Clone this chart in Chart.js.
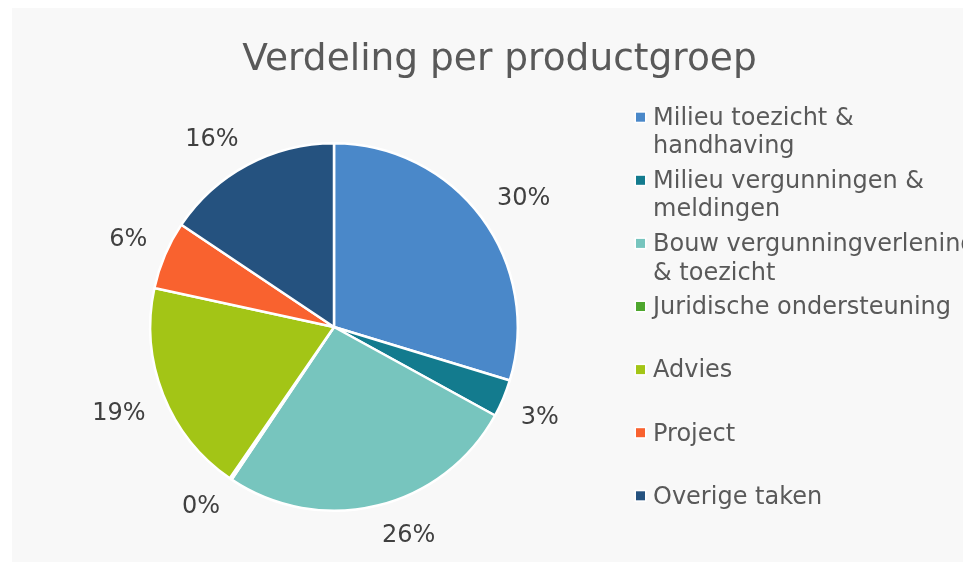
<!DOCTYPE html>
<html>
<head>
<meta charset="utf-8">
<script src="https://cdn.jsdelivr.net/npm/chart.js@4.4.1/dist/chart.umd.min.js"></script>
<style>
  html, body { margin: 0; padding: 0; background: #ffffff; overflow: hidden; }
  #wrap { position: absolute; left: 12px; top: 8px; width: 951px; height: 554px; background: #f8f8f8; }
  canvas { display: block; }
</style>
</head>
<body>
<div id="wrap"><canvas id="verdeling" width="951" height="554"></canvas></div>
<script>
"use strict";

const titel = "Verdeling per productgroep";

const categorieen = [
    "Milieu toezicht & handhaving",
    "Milieu vergunningen & meldingen",
    "Bouw vergunningverlening & toezicht",
    "Juridische ondersteuning",
    "Advies",
    "Project",
    "Overige taken",
];

// aandeel per productgroep (%)
const percentages = [29.7, 3.3, 26.4, 0.2, 18.8, 6.0, 15.6];

const kleuren = ["#4a88c9", "#137b8e", "#77c5be", "#4ea72e", "#a3c516", "#f9622f", "#25527f"];

const FONT = "'DejaVu Sans', Verdana, sans-serif";

document.addEventListener("DOMContentLoaded", () => {
    const canvas = document.querySelector("#verdeling");

    /**
     * Woorden over regels verdelen zoals de legenda in de bron
     */
    function afbreken(ctx, tekst, maxBreedte) {
        const woorden = tekst.split(" ");
        const regels = [];
        let regel = "";
        woorden.forEach((woord) => {
            const test = regel ? regel + " " + woord : woord;
            if (regel && ctx.measureText(test).width > maxBreedte) {
                regels.push(regel);
                regel = woord;
            } else {
                regel = test;
            }
        });
        if (regel) regels.push(regel);
        return regels;
    }

    const titelPlugin = {
        id: "titel",
        afterDraw(chart) {
            const { ctx } = chart;
            ctx.save();
            ctx.font = "37.5px " + FONT;
            ctx.fillStyle = "#595959";
            ctx.textAlign = "center";
            ctx.textBaseline = "alphabetic";
            ctx.fillText(titel, 487.5, 62);
            ctx.restore();
        },
    };

    /**
     * Percentages buiten de taartpunten: de dichtstbijzijnde hoek van het label ligt op de bisectrice
     */
    const labelPlugin = {
        id: "percentageLabels",
        afterDatasetsDraw(chart) {
            const { ctx } = chart;
            const meta = chart.getDatasetMeta(0);
            const totaal = percentages.reduce((a, b) => a + b, 0);
            ctx.save();
            ctx.font = "24px " + FONT;
            ctx.fillStyle = "#404040";
            ctx.textAlign = "center";
            ctx.textBaseline = "middle";
            meta.data.forEach((arc, i) => {
                const { x, y, startAngle, endAngle, outerRadius } = arc.getProps(
                    ["x", "y", "startAngle", "endAngle", "outerRadius"], true);
                const mid = (startAngle + endAngle) / 2;
                const tekst = Math.round((percentages[i] / totaal) * 100) + "%";
                const w = ctx.measureText(tekst).width;
                const cos = Math.cos(mid);
                const sin = Math.sin(mid);
                const d = outerRadius + 19;
                const lx = x + cos * d + Math.sign(cos) * (w / 2);
                const ly = y + sin * d + Math.sign(sin) * 10 + 2;
                ctx.fillText(tekst, lx, ly);
            });
            ctx.restore();
        },
    };

    const legendaPlugin = {
        id: "legenda",
        afterDraw(chart) {
            const { ctx } = chart;
            const boxX = 624;
            const tekstX = 641;
            const eersteBasis = 117;
            const stap = 63.1;
            const regelHoogte = 28.3;
            ctx.save();
            ctx.font = "24px " + FONT;
            ctx.textAlign = "left";
            ctx.textBaseline = "alphabetic";
            categorieen.forEach((naam, i) => {
                const basis = eersteBasis + i * stap;
                ctx.fillStyle = "#ffffff";
                ctx.fillRect(boxX - 1.5, basis - 13.8, 12, 12);
                ctx.fillStyle = kleuren[i];
                ctx.fillRect(boxX, basis - 12.3, 9, 9);
                ctx.fillStyle = "#595959";
                afbreken(ctx, naam, 335).forEach((regel, j) => {
                    ctx.fillText(regel, tekstX, basis + j * regelHoogte);
                });
            });
            ctx.restore();
        },
    };

    new Chart(canvas, {
        type: "pie",
        data: {
            labels: categorieen,
            datasets: [
                {
                    data: percentages,
                    backgroundColor: kleuren,
                    borderColor: "#ffffff",
                    borderWidth: 2.5,
                },
            ],
        },
        options: {
            responsive: false,
            animation: false,
            layout: {
                padding: { left: 137, top: 134, right: 444, bottom: 50 },
            },
            plugins: {
                legend: { display: false },
                tooltip: { enabled: false },
                title: { display: false },
            },
        },
        plugins: [labelPlugin, legendaPlugin, titelPlugin],
    });
});
</script>
</body>
</html>
